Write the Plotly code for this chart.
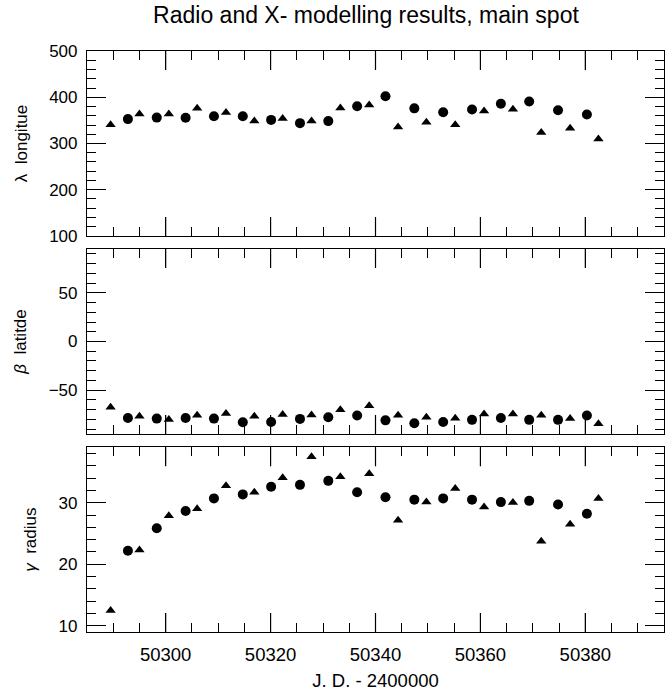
import plotly.graph_objects as go

# ---- data ----
jd_circle = [50292.8, 50298.3, 50303.8, 50309.2, 50314.7, 50320.1, 50325.6, 50331.0, 50336.5,
             50341.9, 50347.4, 50352.9, 50358.4, 50363.9, 50369.3, 50374.8, 50380.3]
jd_triangle = [50289.5, 50295.0, 50300.6, 50306.0, 50311.5, 50316.9, 50322.3, 50327.8, 50333.3,
               50338.8, 50344.3, 50349.7, 50355.2, 50360.7, 50366.2, 50371.6, 50377.1, 50382.5]

lon_circle = [352.7, 356, 355.7, 359, 359, 351, 344, 348.4, 380.6, 402, 376, 367.7, 373.5,
              385.8, 390.8, 372, 362.8]
lon_triangle = [340.6, 364, 364, 376, 367, 348.4, 354, 348.4, 377, 383.5, 335.5, 346, 340.6,
                370, 374, 324, 333, 309.7]

lat_circle = [-78.5, -79.2, -78.5, -79.2, -83, -82.6, -79.5, -77.8, -76, -81, -84, -82.6,
              -80.5, -78.5, -80.5, -80.5, -76]
lat_triangle = [-67.5, -76.8, -80.2, -75.8, -74, -76.8, -75, -75.5, -70.2, -66, -75.8, -77.8,
                -78.9, -74.4, -74.4, -75.8, -79.2, -84.6]

rad_circle = [22.2, 25.85, 28.65, 30.7, 31.35, 32.6, 32.9, 33.55, 31.7, 30.9, 30.5, 30.7,
              30.5, 30.1, 30.3, 29.7, 28.2]
rad_triangle = [12.5, 22.3, 27.9, 29.0, 32.75, 31.7, 34.05, 37.45, 34.2, 34.7, 27.15, 30.1,
                32.3, 29.3, 30.05, 23.75, 26.5, 30.7]

x_major = [50300, 50320, 50340, 50360, 50380]

title_text = "Radio and X- modelling results, main spot"
x_title = "J. D. - 2400000"
y_titles = ["λ  longitue", "<i>β</i>  latitde", "<i>γ</i>  radius"]

FONT = "Liberation Sans, Arial, sans-serif"

fig = go.Figure()

panels = [
    ("y", lon_circle, lon_triangle),
    ("y2", lat_circle, lat_triangle),
    ("y3", rad_circle, rad_triangle),
]
xnames = ["x", "x2", "x3"]
for (yname, cvals, tvals), xname in zip(panels, xnames):
    fig.add_trace(go.Scatter(x=jd_circle, y=cvals, mode="markers", xaxis=xname, yaxis=yname,
                             marker=dict(symbol="circle", size=10, color="black"),
                             showlegend=False))
    fig.add_trace(go.Scatter(x=jd_triangle, y=tvals, mode="markers", xaxis=xname, yaxis=yname,
                             marker=dict(symbol="triangle-up", size=9, color="black"),
                             showlegend=False))

axis_common = dict(showline=True, linecolor="black", linewidth=1.2, mirror="ticks",
                   ticks="inside", ticklen=19, tickwidth=1.2, tickcolor="black",
                   showgrid=False, zeroline=False)

xcommon = dict(axis_common, range=[50285, 50395], tickmode="linear", tick0=50300, dtick=20,
               tickformat="d", ticklabelstandoff=6,
               tickfont=dict(family=FONT, size=18.5, color="black"),
               minor=dict(ticks="inside", ticklen=9, dtick=5,
                          tickcolor="black", tickwidth=1.2, showgrid=False))

ycommon = dict(axis_common, ticklabelstandoff=5,
               tickfont=dict(family=FONT, size=17, color="black"))

ytitle_font = dict(family=FONT, size=17, color="black")
doms = [[0.6816, 1.0], [0.3408, 0.6592], [0.0, 0.3179]]

# long major x ticks (bottom and top of each panel), positioned on the x scale
shapes = []
for xname, yname in zip(xnames, ["y", "y2", "y3"]):
    for v in x_major:
        shapes.append(dict(type="line", xref=xname, yref=f"{yname} domain",
                           ysizemode="pixel", yanchor=0, x0=v, x1=v, y0=0, y1=19,
                           line=dict(color="black", width=1.2), layer="above"))
        shapes.append(dict(type="line", xref=xname, yref=f"{yname} domain",
                           ysizemode="pixel", yanchor=1, x0=v, x1=v, y0=0, y1=-19,
                           line=dict(color="black", width=1.2), layer="above"))

fig.update_layout(
    xaxis=dict(xcommon, anchor="y", showticklabels=False),
    xaxis2=dict(xcommon, anchor="y2", showticklabels=False),
    xaxis3=dict(xcommon, anchor="y3", showticklabels=True,
                title=dict(text=x_title, font=dict(family=FONT, size=18.5, color="black"),
                           standoff=10)),
    yaxis=dict(ycommon, domain=doms[0], range=[100, 500], dtick=100, tick0=0,
               minor=dict(ticks="inside", ticklen=9, dtick=20, tickcolor="black", tickwidth=1.2),
               title=dict(text=y_titles[0], font=ytitle_font, standoff=17)),
    yaxis2=dict(ycommon, domain=doms[1], range=[-95, 95], dtick=50, tick0=0,
                minor=dict(ticks="inside", ticklen=9, dtick=10, tickcolor="black", tickwidth=1.2),
                title=dict(text=y_titles[1], font=ytitle_font, standoff=17)),
    yaxis3=dict(ycommon, domain=doms[2], range=[9, 39], dtick=10, tick0=0,
                minor=dict(ticks="inside", ticklen=9, dtick=2, tickcolor="black", tickwidth=1.2),
                title=dict(text=y_titles[2], font=ytitle_font, standoff=17)),
    shapes=shapes,
    title=dict(text=title_text, x=0.4835, xref="paper", xanchor="center",
               y=0.978, yanchor="middle",
               font=dict(family=FONT, size=23, color="black")),
    width=665, height=691,
    margin=dict(l=87, r=1, t=51, b=59),
    paper_bgcolor="white", plot_bgcolor="white",
)

fig.write_html("out.html")
